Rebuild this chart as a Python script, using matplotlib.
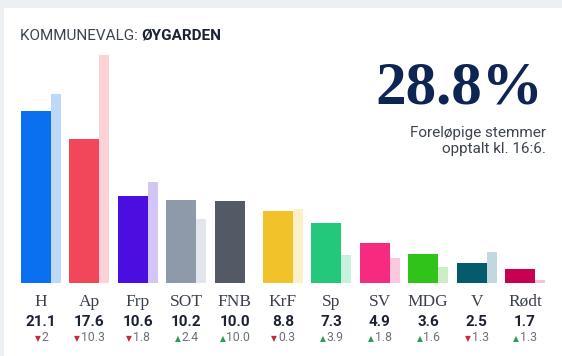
import matplotlib.pyplot as plt
from matplotlib.patches import Rectangle

# data
parties = ["H", "Ap", "Frp", "SOT", "FNB", "KrF", "Sp", "SV", "MDG", "V", "Rødt"]
votes = [21.1, 17.6, 10.6, 10.2, 10.0, 8.8, 7.3, 4.9, 3.6, 2.5, 1.7]
change = [-2, -10.3, -1.8, 2.4, 10.0, -0.3, 3.9, 1.8, 1.6, -1.3, 1.3]
change_labels = ["2", "10.3", "1.8", "2.4", "10.0", "0.3", "3.9", "1.8", "1.6", "1.3", "1.3"]
colors = ["#0a70f0", "#f2465b", "#4a0fe0", "#8e99aa", "#545966", "#f2c22b",
          "#23c87b", "#f62a7f", "#30c41b", "#055a6d", "#c8004f"]
ghost_colors = ["#bcd9f8", "#fcd2d6", "#d3c6f4", "#e2e5eb", "#e5e6e8", "#fcf0c7",
                "#c7f1db", "#fcc8dd", "#caefc5", "#c2d8de", "#f3c4d5"]
counted = "28.8%"

# previous election = current minus change
previous = [v - c for v, c in zip(votes, change)]

W, H = 562, 356
fig = plt.figure(figsize=(W / 100, H / 100), dpi=100)
fig.patch.set_facecolor("#edf0f3")
# white card behind everything
fig.patches.append(Rectangle((4 / W, 0), 1, 1 - 8 / H, transform=fig.transFigure,
                             facecolor="white", edgecolor="none", zorder=-5))

spacing = 48.4
left_px = 41 - 0.5 * spacing
ax = fig.add_axes([left_px / W, 73 / H, 11 * spacing / W, 245 / H])
ax.set_xlim(-0.5, 10.5)
ax.set_ylim(0, 30)
ax.axis("off")

main_w = 30 / spacing
ghost_w = 10 / spacing
idx = range(len(parties))
ax.bar([i - 20 / spacing for i in idx], votes, width=main_w, align="edge", color=colors, zorder=3)
ax.bar([i - 20 / spacing + main_w for i in idx], previous, width=ghost_w, align="edge",
       color=ghost_colors, zorder=2)

tr = ax.get_xaxis_transform()
def fy(px):
    # figure pixel row (from top) -> axes y fraction
    return (H - px - 73) / 245

for i, p in enumerate(parties):
    ax.text(i, fy(306), p, transform=tr, ha="center", va="baseline",
            family="Liberation Serif", fontsize=12.5, color="#3b404b")
    ax.text(i, fy(326), "%.1f" % votes[i], transform=tr, ha="center", va="baseline",
            family="Roboto", fontweight="bold", fontsize=11, color="#1b2233")
    num = ax.text(i + 3.5 / spacing, fy(341), change_labels[i], transform=tr, ha="center",
                  va="baseline", family="Roboto", fontsize=8.8, color="#6a707b")
    tri = "▼" if change[i] < 0 else "▲"
    tcol = "#c8283c" if change[i] < 0 else "#2f9b5c"
    ax.annotate(tri, xy=(0, 0.42), xycoords=num, xytext=(-0.5, 0), textcoords="offset points",
                ha="right", va="center", fontsize=5.5, color=tcol, family="DejaVu Sans",
                annotation_clip=False)

# title
t1 = fig.text(20 / W, 1 - 40 / H, "KOMMUNEVALG: ", ha="left", va="baseline",
              family="Roboto", fontsize=11, color="#3d4450")
ax.annotate("ØYGARDEN", xy=(1, 0), xycoords=t1, ha="left", va="bottom",
            family="Roboto", fontweight="bold", fontsize=11, color="#1b2233",
            annotation_clip=False)

fig.text(543 / W, 1 - 103 / H, counted, ha="right", va="baseline",
         family="Liberation Serif", fontweight="bold", fontsize=44, color="#0e2452")
fig.text(546 / W, 1 - 137 / H, "Foreløpige stemmer", ha="right", va="baseline",
         family="Roboto", fontsize=11, color="#3d4450")
fig.text(546 / W, 1 - 153 / H, "opptalt kl. 16:6.", ha="right", va="baseline",
         family="Roboto", fontsize=11, color="#3d4450")

fig.savefig("out.png", dpi=100, facecolor=fig.get_facecolor())
